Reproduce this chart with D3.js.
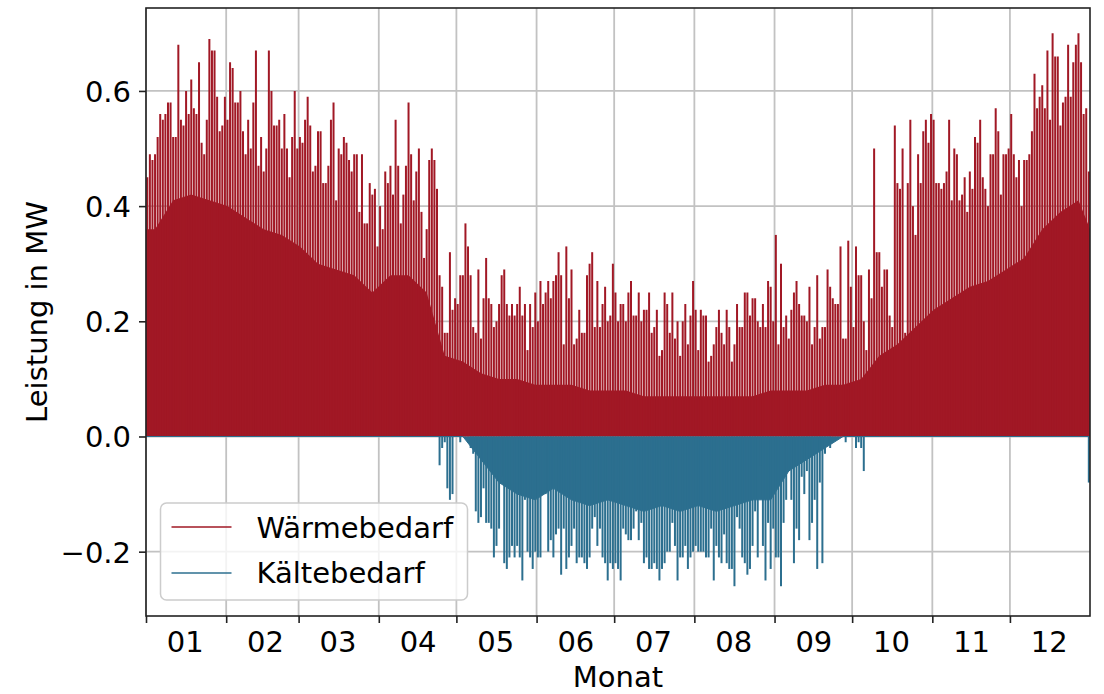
<!DOCTYPE html>
<html>
<head>
<meta charset="utf-8">
<script src="https://cdn.jsdelivr.net/npm/d3@7"></script>
<style>
    body { margin: 0; background: #fff; }
    svg { display: block; font-family: "DejaVu Sans", sans-serif; }
    .tick text { font-size: 29px; fill: #000; }
</style>
</head>
<body>
<svg id="chart" width="1104" height="694"></svg>
<script>
// daily maximum of the heat demand (MW), 1 Jan .. 31 Dec
var heatPeak = [
    0.45, 0.49, 0.48, 0.49, 0.52, 0.56, 0.55, 0.56, 0.58, 0.58,
    0.52, 0.52, 0.68, 0.55, 0.54, 0.60, 0.56, 0.62, 0.57, 0.56,
    0.65, 0.51, 0.49, 0.55, 0.69, 0.67, 0.67, 0.59, 0.53, 0.54,
    0.59, 0.55, 0.65, 0.64, 0.58, 0.58, 0.60, 0.53, 0.49, 0.55,
    0.50, 0.58, 0.67, 0.47, 0.52, 0.46, 0.50, 0.67, 0.60, 0.54,
    0.54, 0.55, 0.50, 0.56, 0.50, 0.45, 0.52, 0.60, 0.50, 0.52,
    0.51, 0.55, 0.59, 0.54, 0.46, 0.47, 0.53, 0.53, 0.44, 0.44,
    0.47, 0.55, 0.58, 0.41, 0.50, 0.49, 0.52, 0.51, 0.48, 0.46,
    0.49, 0.49, 0.39, 0.49, 0.37, 0.37, 0.44, 0.42, 0.43, 0.33,
    0.40, 0.36, 0.46, 0.44, 0.47, 0.42, 0.55, 0.47, 0.37, 0.42,
    0.47, 0.58, 0.49, 0.41, 0.46, 0.50, 0.39, 0.31, 0.36, 0.48,
    0.50, 0.48, 0.43, 0.28, 0.26, 0.18, 0.18, 0.32, 0.22, 0.24,
    0.23, 0.28, 0.28, 0.37, 0.33, 0.28, 0.19, 0.18, 0.29, 0.17,
    0.24, 0.31, 0.24, 0.23, 0.19, 0.20, 0.23, 0.28, 0.29, 0.23,
    0.21, 0.23, 0.21, 0.23, 0.26, 0.21, 0.23, 0.15, 0.23, 0.19,
    0.25, 0.20, 0.27, 0.23, 0.25, 0.27, 0.24, 0.27, 0.28, 0.32,
    0.28, 0.16, 0.33, 0.24, 0.29, 0.16, 0.17, 0.22, 0.18, 0.18,
    0.28, 0.30, 0.32, 0.19, 0.27, 0.19, 0.23, 0.26, 0.20, 0.21,
    0.30, 0.25, 0.20, 0.23, 0.23, 0.20, 0.25, 0.27, 0.21, 0.21,
    0.25, 0.20, 0.22, 0.22, 0.25, 0.18, 0.19, 0.22, 0.14, 0.15,
    0.25, 0.23, 0.18, 0.25, 0.17, 0.20, 0.14, 0.20, 0.23, 0.16,
    0.21, 0.27, 0.22, 0.15, 0.22, 0.21, 0.21, 0.13, 0.14, 0.16,
    0.19, 0.22, 0.18, 0.16, 0.22, 0.19, 0.13, 0.16, 0.23, 0.19,
    0.19, 0.25, 0.25, 0.21, 0.24, 0.24, 0.20, 0.19, 0.23, 0.19,
    0.27, 0.26, 0.20, 0.35, 0.16, 0.30, 0.19, 0.21, 0.17, 0.22,
    0.25, 0.27, 0.23, 0.21, 0.21, 0.20, 0.26, 0.16, 0.19, 0.28,
    0.17, 0.19, 0.19, 0.29, 0.26, 0.24, 0.23, 0.23, 0.33, 0.17,
    0.17, 0.34, 0.26, 0.19, 0.33, 0.28, 0.28, 0.20, 0.15, 0.29,
    0.24, 0.50, 0.32, 0.32, 0.26, 0.29, 0.29, 0.21, 0.19, 0.54,
    0.44, 0.43, 0.50, 0.18, 0.44, 0.55, 0.40, 0.35, 0.49, 0.44,
    0.53, 0.55, 0.51, 0.56, 0.55, 0.44, 0.44, 0.43, 0.44, 0.46,
    0.55, 0.41, 0.50, 0.49, 0.41, 0.42, 0.45, 0.39, 0.46, 0.43,
    0.52, 0.51, 0.55, 0.45, 0.43, 0.40, 0.49, 0.49, 0.57, 0.53,
    0.42, 0.49, 0.49, 0.50, 0.56, 0.49, 0.45, 0.48, 0.40, 0.48,
    0.48, 0.49, 0.53, 0.63, 0.57, 0.59, 0.61, 0.57, 0.67, 0.55,
    0.70, 0.66, 0.66, 0.54, 0.58, 0.59, 0.68, 0.59, 0.65, 0.68,
    0.70, 0.65, 0.56, 0.57, 0.46
];

// level the heat demand stays near in most hours, one value per week (MW)
var heatBaseWeekly = [
    0.36, 0.41, 0.42, 0.41, 0.40, 0.38, 0.36, 0.35, 0.33, 0.30,
    0.29, 0.28, 0.25, 0.28, 0.28, 0.25, 0.14, 0.13, 0.11, 0.10,
    0.10, 0.09, 0.09, 0.09, 0.08, 0.08, 0.08, 0.07, 0.07, 0.07,
    0.07, 0.07, 0.07, 0.07, 0.08, 0.08, 0.08, 0.09, 0.09, 0.10,
    0.14, 0.16, 0.19, 0.22, 0.24, 0.26, 0.27, 0.29, 0.31, 0.36,
    0.39, 0.41, 0.36
];

// daily minimum of the cooling demand (MW, negative), 1 Jan .. 31 Dec
var coolTrough = [
    0, 0, 0, 0, 0, 0, 0, 0, 0, 0,
    0, 0, 0, 0, 0, 0, 0, 0, 0, 0,
    0, 0, 0, 0, 0, 0, 0, 0, 0, 0,
    0, 0, 0, 0, 0, 0, 0, 0, 0, 0,
    0, 0, 0, 0, 0, 0, 0, 0, 0, 0,
    0, 0, 0, 0, 0, 0, 0, 0, 0, 0,
    0, 0, 0, 0, 0, 0, 0, 0, 0, 0,
    0, 0, 0, 0, 0, 0, 0, 0, 0, 0,
    0, 0, 0, 0, 0, 0, 0, 0, 0, 0,
    0, 0, 0, 0, 0, 0, 0, 0, 0, 0,
    0, 0, 0, 0, 0, 0, 0, 0, 0, 0,
    0, 0, 0,
    -0.05, -0.02, -0.01, -0.09, -0.11, -0.10, 0, 0, -0.01, 0,
    0, 0, -0.02, -0.03, -0.13, -0.15, -0.14, -0.09, -0.15, -0.15,
    -0.16, -0.21, -0.19, -0.16, -0.07, -0.22, -0.23, -0.21, -0.19, -0.21,
    -0.19, -0.21, -0.25, -0.11, -0.20, -0.21, -0.23, -0.20, -0.21, -0.21,
    -0.02, -0.10, -0.20, -0.18, -0.21, -0.17, -0.16, -0.24, -0.16, -0.23,
    -0.21, -0.19, -0.16, -0.22, -0.21, -0.21, -0.22, -0.23, -0.21, -0.16,
    -0.14, -0.19, -0.16, -0.21, -0.22, -0.25, -0.22, -0.23, -0.22, -0.23,
    -0.25, -0.16, -0.17, -0.18, -0.18, -0.16, -0.13, -0.18, -0.15, -0.22,
    -0.21, -0.23, -0.23, -0.22, -0.23, -0.25, -0.23, -0.22, -0.20, -0.20,
    -0.15, -0.19, -0.25, -0.21, -0.21, -0.19, -0.23, -0.21, -0.20, -0.19,
    -0.20, -0.20, -0.20, -0.21, -0.21, -0.16, -0.25, -0.19, -0.21, -0.22,
    -0.17, -0.22, -0.23, -0.23, -0.26, -0.14, -0.16, -0.21, -0.22, -0.24,
    -0.23, -0.19, -0.13, -0.21, -0.05, -0.19, -0.25, -0.15, -0.23, -0.16,
    -0.21, -0.21, -0.26, -0.15, -0.11, -0.06, -0.11, -0.22, -0.16, -0.18,
    -0.07, -0.10, -0.06, -0.18, -0.15, -0.11, -0.23, -0.08, -0.22, -0.03,
    -0.01, -0.02, 0, 0, 0, 0, 0, -0.01, 0, 0,
    0, -0.02, -0.01, -0.02, -0.06,
    0, 0, 0, 0, 0, 0, 0, 0, 0, 0,
    0, 0, 0, 0, 0, 0, 0, 0, 0, 0,
    0, 0, 0, 0, 0, 0, 0, 0, 0, 0,
    0, 0, 0, 0, 0, 0, 0, 0, 0, 0,
    0, 0, 0, 0, 0, 0, 0, 0, 0, 0,
    0, 0, 0, 0, 0, 0, 0, 0, 0, 0,
    0, 0, 0, 0, 0, 0, 0, 0, 0, 0,
    0, 0, 0, 0, 0, 0, 0, 0, 0, 0,
    0, 0, 0, 0, 0, 0,
    -0.08
];

// level the cooling demand stays near in most hours, one value per week (MW)
var coolBaseWeekly = [
    0, 0, 0, 0, 0, 0, 0, 0, 0, 0,
    0, 0, 0, 0, 0, 0, 0, 0, -0.04, -0.08,
    -0.10, -0.11, -0.09, -0.11, -0.12, -0.11, -0.12, -0.13, -0.12, -0.13,
    -0.12, -0.13, -0.12, -0.11, -0.11, -0.06, -0.04, -0.02, 0, 0,
    0, 0, 0, 0, 0, 0, 0, 0, 0, 0,
    0, 0, 0
];

var monthLabels = ["01", "02", "03", "04", "05", "06", "07", "08", "09", "10", "11", "12"];
var yTicks = [-0.2, 0.0, 0.2, 0.4, 0.6];
var seriesNames = ["Wärmebedarf", "Kältebedarf"];

var heatColor = "#a11825";
var coolColor = "#2c6f8f";
var DAY = 86400000;
var yearStart = Date.UTC(2019, 0, 1);
var yearEnd = Date.UTC(2020, 0, 1);

var margin = { top: 8, right: 14, bottom: 78, left: 146 },
    width = 1104 - margin.left - margin.right,
    height = 694 - margin.top - margin.bottom;

var x = d3.scaleUtc()
    .domain([new Date(yearStart), new Date(Date.UTC(2019, 11, 31, 23))])
    .range([0, width]);
var y = d3.scaleLinear().domain([-0.3117, 0.744]).range([height, 0]);

var days = heatPeak.map(function(p, i) {
    return {
        mid: new Date(yearStart + i * DAY + DAY / 2),
        peak: p,
        trough: coolTrough[i]
    };
});

// weekly levels placed mid-week, held flat out to both year ends
var weeks = heatBaseWeekly.map(function(h, w) {
    var t = Math.min(yearStart + (w * 7 + 3.5) * DAY, yearEnd);
    return { date: new Date(t), heat: h, cool: coolBaseWeekly[w] };
});
weeks.unshift({ date: new Date(yearStart), heat: heatBaseWeekly[0], cool: coolBaseWeekly[0] });
weeks.push({ date: new Date(yearEnd), heat: heatBaseWeekly[52], cool: coolBaseWeekly[52] });

var svg = d3.select("#chart");
svg.append("defs").append("clipPath")
    .attr("id", "clip")
    .append("rect")
    .attr("width", width)
    .attr("height", height);

var g = svg.append("g").attr("transform", "translate(" + margin.left + "," + margin.top + ")");

//Grid
var months = d3.utcMonth.range(new Date(yearStart), new Date(yearEnd));
g.append("g").selectAll("line").data(months).enter().append("line")
    .attr("x1", function(d) { return x(d); })
    .attr("x2", function(d) { return x(d); })
    .attr("y1", 0).attr("y2", height)
    .attr("stroke", "#c2c2c2").attr("stroke-width", 1.8);
g.append("g").selectAll("line").data(yTicks).enter().append("line")
    .attr("x1", 0).attr("x2", width)
    .attr("y1", function(d) { return y(d); })
    .attr("y2", function(d) { return y(d); })
    .attr("stroke", "#c2c2c2").attr("stroke-width", 1.8);

var plot = g.append("g").attr("clip-path", "url(#clip)");

//Heat demand
plot.append("path")
    .datum(weeks)
    .attr("fill", heatColor)
    .attr("d", d3.area()
        .x(function(d) { return x(d.date); })
        .y0(y(0))
        .y1(function(d) { return y(d.heat); }));

plot.append("g").selectAll("line").data(days).enter().append("line")
    .attr("x1", function(d) { return x(d.mid); })
    .attr("x2", function(d) { return x(d.mid); })
    .attr("y1", y(0))
    .attr("y2", function(d) { return y(d.peak); })
    .attr("stroke", heatColor)
    .attr("stroke-width", 2);

//Cooling demand
plot.append("path")
    .datum(weeks)
    .attr("fill", coolColor)
    .attr("d", d3.area()
        .x(function(d) { return x(d.date); })
        .y0(y(0))
        .y1(function(d) { return y(d.cool); }));

plot.append("g").selectAll("line").data(days.filter(function(d) { return d.trough < 0; })).enter().append("line")
    .attr("x1", function(d) { return x(d.mid); })
    .attr("x2", function(d) { return x(d.mid); })
    .attr("y1", y(0))
    .attr("y2", function(d) { return y(d.trough); })
    .attr("stroke", coolColor)
    .attr("stroke-width", 2);

plot.append("path")
    .datum(weeks)
    .attr("fill", "none")
    .attr("stroke", coolColor)
    .attr("stroke-width", 1)
    .attr("d", d3.line()
        .x(function(d) { return x(d.date); })
        .y(function(d) { return y(d.cool); }));

//Axes
var xMajor = d3.axisBottom(x).tickValues(months).tickFormat("").tickSize(7).tickSizeOuter(0);
var xMinor = d3.axisBottom(x)
    .tickValues(months.map(function(m) { return d3.utcDay.offset(m, 15); }))
    .tickFormat(function(d, i) { return monthLabels[i]; })
    .tickSize(0);
var yAxis = d3.axisLeft(y).tickValues(yTicks).tickFormat(d3.format(".1f")).tickSize(7).tickPadding(8).tickSizeOuter(0);

var gx = g.append("g").attr("transform", "translate(0," + height + ")").call(xMajor);
var gx2 = g.append("g").attr("transform", "translate(0," + height + ")").call(xMinor);
var gy = g.append("g").call(yAxis);
[gx, gx2, gy].forEach(function(a) {
    a.select(".domain").remove();
    a.selectAll(".tick line").attr("stroke", "#222").attr("stroke-width", 1.6);
    a.selectAll(".tick text").attr("font-family", "DejaVu Sans").attr("font-size", 29);
});
gx2.selectAll(".tick text").attr("dy", 0).attr("y", 36);
gy.selectAll(".tick text").attr("dy", "0.36em");

g.append("rect")
    .attr("width", width).attr("height", height)
    .attr("fill", "none").attr("stroke", "#222").attr("stroke-width", 1.6);

g.append("text")
    .attr("x", width / 2).attr("y", height + 71)
    .attr("text-anchor", "middle").attr("font-size", 29)
    .text("Monat");

svg.append("text")
    .attr("transform", "translate(47," + (margin.top + height / 2) + ") rotate(-90)")
    .attr("text-anchor", "middle").attr("font-size", 29)
    .text("Leistung in MW");

//Legend
var legend = svg.append("g").attr("transform", "translate(160.5,503)");
legend.append("rect")
    .attr("width", 307).attr("height", 97).attr("rx", 6)
    .attr("fill", "#fff").attr("fill-opacity", 0.8)
    .attr("stroke", "#cccccc").attr("stroke-width", 1.5);
[heatColor, coolColor].forEach(function(c, i) {
    legend.append("line")
        .attr("x1", 11).attr("x2", 71)
        .attr("y1", 24 + i * 46).attr("y2", 24 + i * 46)
        .attr("stroke", c).attr("stroke-width", 1.5);
    legend.append("text")
        .attr("x", 96).attr("y", 35 + i * 45)
        .attr("font-size", 29)
        .text(seriesNames[i]);
});
</script>
</body>
</html>
